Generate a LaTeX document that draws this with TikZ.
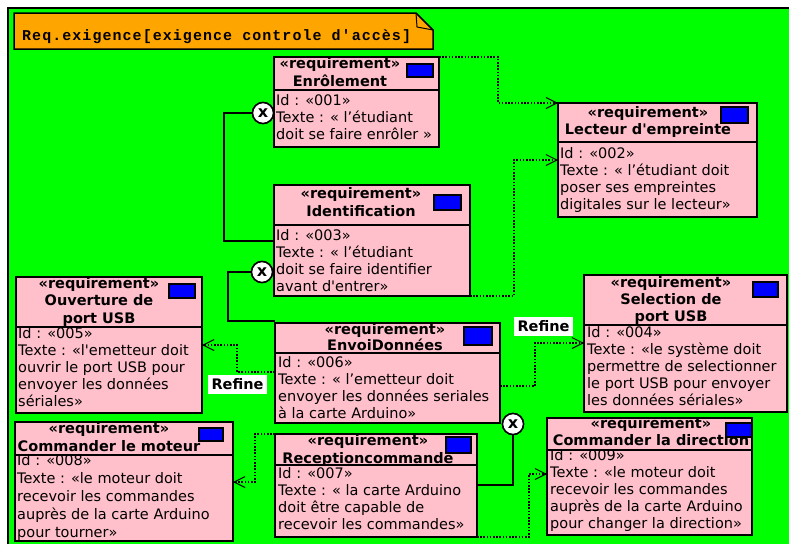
\documentclass[tikz,border=0pt]{standalone}
\usepackage{fontspec}
\usetikzlibrary{arrows.meta}
\newfontfamily\dv{DejaVu Sans}
\newfontfamily\monof{Liberation Mono}[LetterSpace=7]
\definecolor{bggreen}{HTML}{00FF00}
\definecolor{reqpink}{HTML}{FFC0CB}
\definecolor{noteorange}{HTML}{FFA500}
\definecolor{reqblue}{HTML}{0000FF}
\tikzset{
  reqbox/.style={draw=black, line width=1.8pt, fill=reqpink, anchor=north west, inner sep=0pt, outer sep=0pt},
  flagbox/.style={draw=black, line width=1.2pt, fill=reqblue, anchor=north west, inner sep=0pt, outer sep=0pt},
  hdrt/.style={anchor=base, inner sep=0pt, font=\dv\bfseries\fontsize{14.5}{17.5}\selectfont},
  bodyt/.style={anchor=base west, inner sep=0pt, font=\dv\fontsize{14.5}{17.3}\selectfont},
  contain/.style={draw=black, line width=1.8pt},
  xcirc/.style={circle, draw=black, line width=1.5pt, fill=white, minimum size=21pt, inner sep=0pt, font=\dv\bfseries\fontsize{16}{16}\selectfont},
  refine/.style={draw=black, line width=1.8pt, dash pattern=on 1.6pt off 1.6pt, -{Straight Barb[length=11pt,width=11pt,line width=1pt]}},
  reflabel/.style={fill=white, inner sep=0pt, minimum width=59pt, minimum height=19pt, font=\dv\bfseries\fontsize{14.5}{17}\selectfont},
}
\newcommand\rqbox[6]{%
  \node[reqbox, minimum width={(#4)-(#2)}, minimum height={(#5)-(#3)}] (#1) at (#2,#3) {};
  \draw[line width=1.8pt] (#1.west |- 0,#6) -- (#1.east |- 0,#6);}
\newcommand\flg[5]{\node[flagbox, minimum width={(#4)-(#2)}, minimum height={(#5)-(#3)}] (#1) at (#2,#3) {};}
\newcommand\hdr[5]{\node[hdrt] (#1) at (#2,#3) {\parbox[t]{240pt}{\centering\baselineskip=#4pt\lineskiplimit=-20pt #5\par}};}
\newcommand\bdy[5]{\node[bodyt] (#1) at (#2,#3) {\parbox[t]{240pt}{\raggedright\baselineskip=#4pt\lineskiplimit=-20pt #5\par}};}
\begin{document}
\begin{tikzpicture}[x=1pt,y=-1pt]
\useasboundingbox (0,0) rectangle (789,544);
\fill[white] (0,0) rectangle (789,544);
\fill[bggreen] (8,8) rectangle (789,544);
\draw[line width=2.5pt] (8,544) -- (8,8) -- (789,8);
% title note
\draw[line width=1.5pt, fill=noteorange, line join=miter] (14,13) -- (416,13) -- (433,30) -- (433,49) -- (14,49) -- cycle;
\draw[line width=1pt] (416,13) -- (417,27) -- (433,30);
\node[anchor=base west, inner sep=0pt, font=\monof\bfseries\fontsize{15}{15}\selectfont] (title) at (22,40) {Req.exigence[exigence controle d'accès]};
% boxes
\rqbox{enr}{274}{57}{439}{147}{90}
\hdr{enrh}{340}{68}{18}{«requirement»\\Enrôlement}
\bdy{enrb}{276}{105}{17.3}{Id : «001»\\Texte : « l’étudiant\\doit se faire enrôler »}
\flg{enrf}{407}{64}{433}{77}

\rqbox{lec}{558}{103}{757}{217}{142}
\hdr{lech}{648}{117}{17}{«requirement»\\Lecteur d'empreinte}
\bdy{lecb}{560}{158}{17.2}{Id : «002»\\Texte : « l’étudiant doit\\poser ses empreintes\\digitales sur le lecteur»}
\flg{lecf}{721}{107}{748}{123}

\rqbox{ide}{274}{185}{470}{296}{225}
\hdr{ideh}{361}{198}{18}{«requirement»\\Identification}
\bdy{ideb}{276}{240}{17.2}{Id : «003»\\Texte : « l’étudiant\\doit se faire identifier\\avant d'entrer»}
\flg{idef}{434}{195}{461}{210}

\rqbox{ouv}{16}{277}{202}{413}{327}
\hdr{ouvh}{99}{288}{17.5}{«requirement»\\Ouverture de\\port USB}
\bdy{ouvb}{18}{338}{17.1}{Id : «005»\\Texte : «l'emetteur doit\\ouvrir le port USB pour\\envoyer les données\\sériales»}
\flg{ouvf}{169}{284}{195}{298}

\rqbox{env}{275}{323}{500}{423}{353}
\hdr{envh}{385}{334}{16}{«requirement»\\EnvoiDonnées}
\bdy{envb}{278}{367}{17.2}{Id : «006»\\Texte : « l’emetteur doit\\envoyer les données seriales\\à la carte Arduino»}
\flg{envf}{464}{327}{492}{345}

\rqbox{sel}{584}{275}{787}{412}{325}
\hdr{selh}{671}{287}{17}{«requirement»\\Selection de\\port USB}
\bdy{selb}{587}{337}{17.1}{Id : «004»\\Texte : «le système doit\\permettre de selectionner\\le port USB pour envoyer\\les données sériales»}
\flg{self}{753}{282}{778}{297}

\rqbox{cmo}{15}{422}{233}{541}{455}
\hdr{cmoh}{109}{433}{18}{«requirement»\\Commander le moteur}
\bdy{cmob}{17}{465}{18}{Id : «008»\\Texte : «le moteur doit\\recevoir les commandes\\auprès de la carte Arduino\\pour tourner»}
\flg{cmof}{199}{428}{223}{441}

\rqbox{rec}{275}{434}{477}{537}{465}
\hdr{rech}{368}{445}{18}{«requirement»\\Receptioncommande}
\bdy{recb}{278}{478}{17.2}{Id : «007»\\Texte : « la carte Arduino\\doit être capable de\\recevoir les commandes»}
\flg{recf}{446}{437}{471}{453}

\rqbox{cdi}{547}{418}{752}{535}{450}
\hdr{cdih}{651}{428}{17}{«requirement»\\Commander la direction}
\bdy{cdib}{550}{460}{17.1}{Id : «009»\\Texte : «le moteur doit\\recevoir les commandes\\auprès de la carte Arduino\\pour changer la direction»}
\flg{cdif}{726}{423}{752}{437}

% containment connectors
\node[xcirc] (x1) at (263,113) {x};
\node[xcirc] (x2) at (262,272) {x};
\node[xcirc] (x3) at (513,424) {x};
\draw[contain] (x1.west) -- ++(-28,0) |- (ide.west |- 0,241);
\draw[contain] (x2.west) -- ++(-23,0) |- (env.west |- 0,321);
\draw[contain] (x3.south) |- (rec.east |- 0,485);
\node[xcirc] at (x1) {x};
\node[xcirc] at (x2) {x};
\node[xcirc] at (x3) {x};

% refine connectors
\draw[refine] (enr.north east) -- ++(59,0) |- (lec.north west);
\draw[refine] (ide.south east) -- ++(44,0) |- (lec.west |- 0,160);
\draw[refine] (env.west |- 0,372) -- ++(-38,0) |- (ouv.east |- 0,345);
\draw[refine] (env.east |- 0,386) -- ++(35,0) |- (sel.west |- 0,343);
\draw[refine] (rec.north west) -- ++(-20,0) |- (cmo.east |- 0,482);
\draw[refine] (rec.south east) -- ++(52,0) |- (cdi.west |- 0,474);

\node[reflabel] (lbl1) at (237.5,384.5) {Refine};
\node[reflabel] (lbl2) at (543.5,326.5) {Refine};
\end{tikzpicture}
\end{document}
